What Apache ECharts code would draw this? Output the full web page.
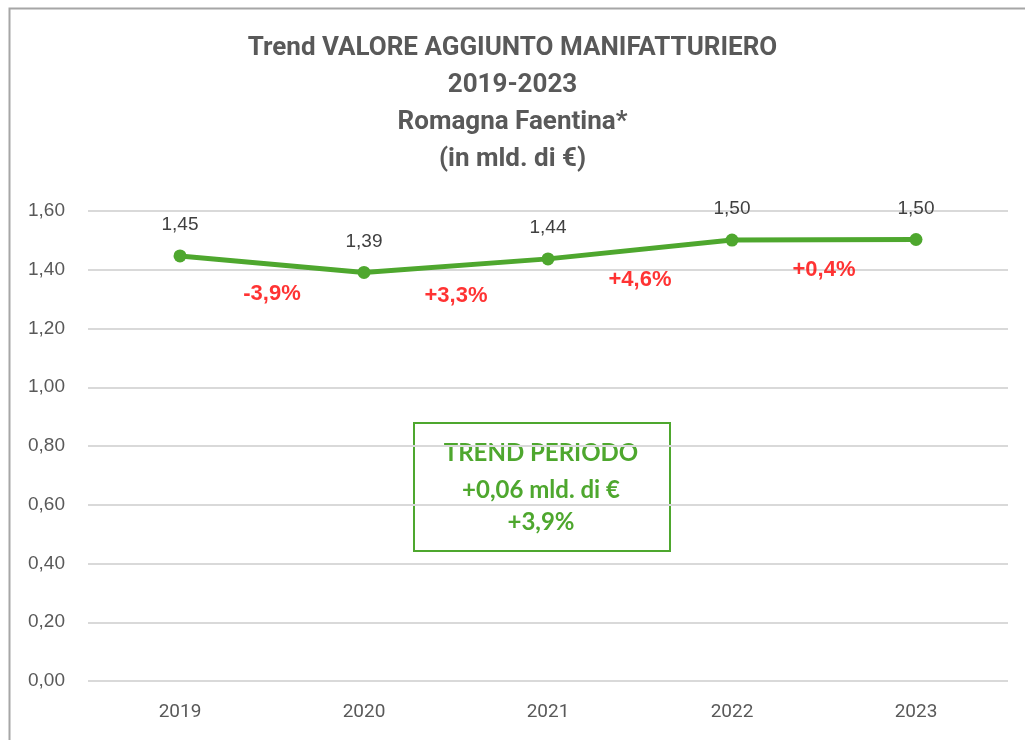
<!DOCTYPE html>
<html>
<head>
<meta charset="utf-8">
<script src="https://cdn.jsdelivr.net/npm/echarts@6/dist/echarts.min.js"></script>
<style>
  html, body { margin: 0; padding: 0; background: #fff; }
  #chart { width: 1025px; height: 740px; }
</style>
</head>
<body>
<div id="chart"></div>
<script>
const years = ['2019', '2020', '2021', '2022', '2023']
const values = [1.447, 1.391, 1.437, 1.501, 1.503]
const changes = ['-3,9%', '+3,3%', '+4,6%', '+0,4%']
const trendLines = ['TREND PERIODO', '+0,06 mld. di €', '+3,9%']
const titleLines = ['Trend VALORE AGGIUNTO MANIFATTURIERO', '2019-2023', 'Romagna Faentina*', '(in mld. di €)']

const green = '#4ea72e'
const grey = '#595959'

// change labels sit between two years, on a hidden value axis
const changePoints = changes.map( ( txt, i ) => {
  return { value : [i + 0.5, ( values[i] + values[i + 1] ) / 2], txt }
} )

const trendY = [453, 490, 522]

const chart = echarts.init( document.getElementById( 'chart' ) )

chart.setOption( {
  animation : false,
  title : {
    text : titleLines.join( '\n' ),
    left : 'center',
    top : 25,
    textStyle : {
      fontFamily : 'Roboto',
      fontWeight : 'bold',
      fontSize : 26,
      lineHeight : 37,
      color : grey
    }
  },
  grid : {
    left : 88,
    right : 17,
    top : 211,
    bottom : 59
  },
  xAxis : [
    {
      type : 'category',
      data : years,
      axisLine : { show : false },
      axisTick : { show : false },
      axisLabel : {
        margin : 22,
        fontFamily : 'Roboto',
        fontSize : 19,
        color : grey
      }
    },
    {
      type : 'value',
      min : -0.5,
      max : 4.5,
      show : false
    }
  ],
  yAxis : {
    type : 'value',
    min : 0,
    max : 1.6,
    interval : 0.2,
    axisLine : { show : false },
    axisTick : { show : false },
    splitLine : { lineStyle : { color : '#d9d9d9', width : 2 } },
    axisLabel : {
      margin : 23,
      fontFamily : 'Liberation Sans',
      fontSize : 19,
      color : grey,
      formatter : v => v.toFixed( 2 ).replace( '.', ',' )
    }
  },
  series : [
    {
      type : 'line',
      data : values,
      symbol : 'circle',
      symbolSize : 13,
      lineStyle : { color : green, width : 5 },
      itemStyle : { color : green },
      label : {
        show : true,
        position : 'top',
        distance : 15,
        fontFamily : 'Liberation Sans',
        fontSize : 19,
        color : '#404040',
        formatter : p => p.value.toFixed( 2 ).replace( '.', ',' )
      }
    },
    {
      type : 'scatter',
      xAxisIndex : 1,
      data : changePoints,
      symbolSize : 0,
      silent : true,
      label : {
        show : true,
        position : 'inside',
        offset : [0, 30],
        fontFamily : 'Liberation Sans',
        fontWeight : 'bold',
        fontSize : 22,
        color : '#ff0000',
        formatter : p => p.data.txt
      }
    }
  ],
  graphic : [
    {
      type : 'rect',
      left : 7,
      top : 6,
      shape : { width : 1040, height : 760 },
      style : { fill : 'none', stroke : '#a6a6a6', lineWidth : 2 },
      silent : true,
      z : -1
    },
    {
      type : 'rect',
      left : 413,
      top : 422,
      shape : { width : 256, height : 128 },
      style : { fill : '#fff', stroke : green, lineWidth : 2 }
    },
    ...trendLines.map( ( txt, i ) => ( {
      type : 'text',
      x : 541,
      y : trendY[i],
      style : {
        text : txt,
        textAlign : 'center',
        textVerticalAlign : 'middle',
        fontFamily : 'Lato',
        fontWeight : 'bold',
        fontSize : 24,
        fill : green
      }
    } ) )
  ]
} )
</script>
</body>
</html>
